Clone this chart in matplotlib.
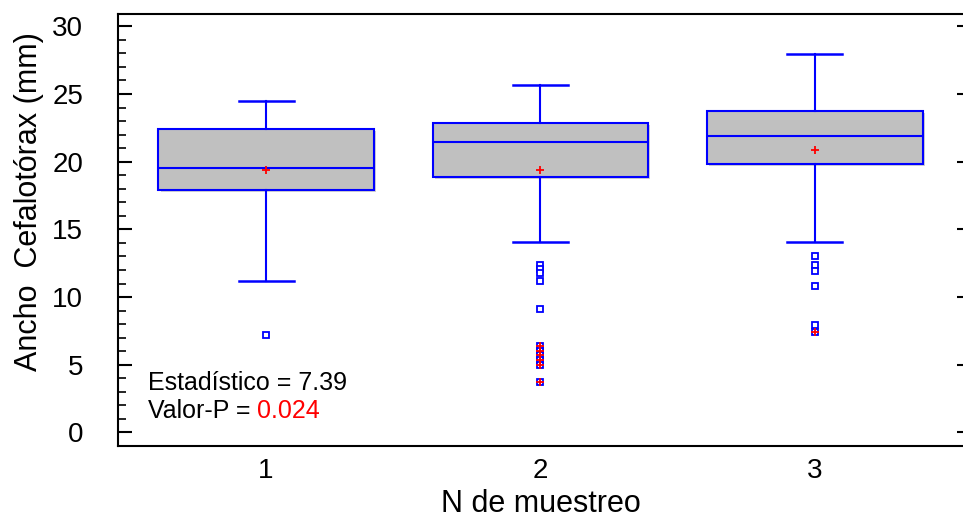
import matplotlib
matplotlib.use("Agg")
import matplotlib.pyplot as plt
from matplotlib.ticker import MultipleLocator
from matplotlib import patheffects as pe

plt.rcParams["font.family"] = ["Liberation Sans", "DejaVu Sans"]

muestreos = [1, 2, 3]
q1 = [17.9, 18.9, 19.8]
medianas = [19.5, 21.45, 21.88]
q3 = [22.4, 22.85, 23.72]
bigote_inf = [11.15, 14.05, 14.05]
bigote_sup = [24.5, 25.65, 27.94]
medias = [19.35, 19.35, 20.9]
atipicos = [
    [7.2],
    [12.4, 12.1, 11.8, 11.15, 9.1, 6.4, 6.05, 5.7, 5.35, 5.0, 3.75],
    [13.05, 12.4, 11.9, 10.85, 7.95, 7.45],
]
# valores fuera de 3 IQR (marcados con +)
lejanos = [
    [],
    [6.4, 6.05, 5.7, 5.35, 5.0, 3.75],
    [7.45],
]
estadistico = "7.39"
valor_p = "0.024"

azul = "#0000ff"

fig = plt.figure(figsize=(9.63, 5.24), dpi=100)
ax = fig.add_axes([0.1225, 0.149, 0.8775, 0.824])

stats = []
for i in range(3):
    stats.append({
        "med": medianas[i], "q1": q1[i], "q3": q3[i],
        "whislo": bigote_inf[i], "whishi": bigote_sup[i],
        "mean": medias[i], "fliers": atipicos[i], "label": str(muestreos[i]),
    })

bp = ax.bxp(stats, positions=muestreos, widths=0.785, patch_artist=True,
            showmeans=True, capwidths=0.2,
            boxprops=dict(facecolor="#c0c0c0", edgecolor=azul, linewidth=1.5),
            medianprops=dict(color=azul, linewidth=1.5),
            whiskerprops=dict(color=azul, linewidth=1.5),
            capprops=dict(color=azul, linewidth=1.8),
            meanprops=dict(marker="+", markeredgecolor="red", markersize=6,
                           markeredgewidth=1.3),
            flierprops=dict(marker="s", markerfacecolor="white", markeredgecolor=azul,
                            markersize=4.5, markeredgewidth=1.3))

for caja in bp["boxes"]:
    caja.set_path_effects([pe.SimplePatchShadow(offset=(1.5, -1.5),
                                                shadow_rgbFace="#d0d0d0", alpha=1),
                           pe.Normal()])

for x, vals in zip(muestreos, lejanos):
    if vals:
        ax.plot([x] * len(vals), vals, linestyle="none", marker="+", color="red",
                markersize=6, markeredgewidth=1.3)

ax.set_xlim(0.46, 3.54)
ax.set_ylim(-1.0, 30.9)
ax.yaxis.set_major_locator(MultipleLocator(5))
ax.yaxis.set_minor_locator(MultipleLocator(1))
ax.tick_params(axis="y", which="major", direction="in", length=10, width=1.5,
               labelsize=20, pad=25)
ax.tick_params(axis="y", which="minor", direction="in", length=6, width=1.2)
ax.tick_params(axis="x", length=0, labelsize=20, pad=9)

# marcas cortas del lado derecho
der = ax.secondary_yaxis("right")
der.yaxis.set_major_locator(MultipleLocator(5))
der.tick_params(direction="in", length=4, width=1.5, labelright=False)
der.spines["right"].set_visible(False)

for lado in ["left", "bottom", "top"]:
    ax.spines[lado].set_linewidth(1.5)
ax.spines["right"].set_visible(False)

ax.set_xlabel("N de muestreo", fontsize=22, labelpad=3)
ax.set_ylabel("Ancho  Cefalotórax (mm)", fontsize=22)
ax.yaxis.set_label_coords(-0.087, 0.567)

ax.text(0.035, 0.145, "Estadístico = " + estadistico, transform=ax.transAxes,
        fontsize=18, va="center")
t = ax.text(0.035, 0.08, "Valor-P = ", transform=ax.transAxes, fontsize=18,
            va="center")
ax.annotate(valor_p, xycoords=t, xy=(1, 0), va="bottom", fontsize=18, color="red")

fig.savefig("out.png", dpi=100)
plt.close(fig)
